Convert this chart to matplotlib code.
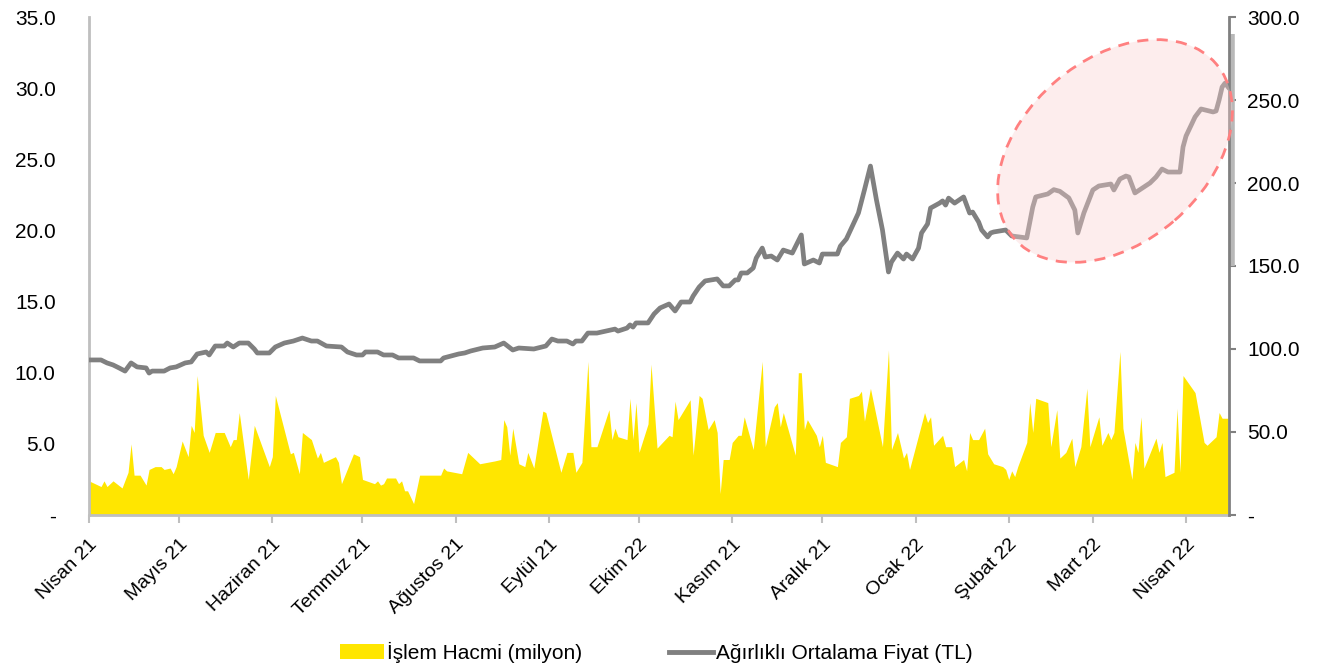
import matplotlib
matplotlib.use('Agg')
import matplotlib.pyplot as plt
from matplotlib.patches import Ellipse, Patch
from matplotlib.lines import Line2D
import pandas as pd

plt.rcParams['font.family'] = ['Liberation Sans Narrow', 'Liberation Sans', 'DejaVu Sans']

# volume (million), x = days after 1 Apr 2021
vol_day = [0, 4, 5, 6, 8, 11, 13, 14, 15, 17, 19, 20, 22, 24, 25, 27, 28, 29, 31, 33,
           34, 35, 36, 38, 40, 42, 45, 47, 48, 49, 50, 53, 55, 60, 61, 62, 67, 68, 70, 71,
           74, 76, 77, 78, 82, 83, 84, 88, 90, 91, 95, 96, 97, 98, 99, 102, 103, 104, 105, 106,
           108, 110, 117, 118, 119, 124, 126, 130, 135, 137, 138, 139, 140, 141, 143, 145, 146, 148, 151, 152,
           157, 159, 161, 162, 164, 166, 167, 169, 173, 174, 175, 176, 179, 180, 181, 182, 183, 186, 187, 189,
           193, 194, 195, 196, 200, 201, 203, 204, 206, 208, 209, 210, 211, 213, 214, 216, 217, 218, 221, 224,
           225, 228, 229, 230, 231, 235, 236, 237, 238, 239, 242, 243, 244, 245, 249, 250, 252, 253, 256, 257,
           258, 260, 264, 266, 267, 269, 271, 272, 273, 278, 279, 280, 281, 284, 285, 287, 288, 291, 292, 293,
           294, 296, 298, 299, 301, 304, 305, 306, 307, 308, 309, 312, 313, 314, 315, 319, 320, 322, 323, 325,
           327, 328, 330, 332, 333, 336, 337, 339, 340, 341, 343, 344, 347, 348, 349, 350, 351, 355, 356, 357,
           358, 361, 362, 363, 364, 368, 371, 372, 375, 376, 377, 379]
vol = [2.4, 2.0, 2.4, 2.0, 2.4, 1.9, 3.0, 5.0, 2.8, 2.8, 2.1, 3.2, 3.4, 3.4, 3.2, 3.3, 2.9, 3.4, 5.2, 4.1,
       6.3, 5.8, 9.8, 5.6, 4.4, 5.8, 5.8, 4.8, 5.3, 5.3, 7.2, 2.5, 6.3, 3.4, 4.1, 8.4, 4.3, 4.4, 2.9, 5.8,
       5.3, 4.0, 4.4, 3.7, 4.1, 3.7, 2.2, 4.3, 4.1, 2.5, 2.2, 2.4, 2.1, 2.2, 2.6, 2.6, 2.2, 2.4, 1.7, 1.7,
       0.8, 2.8, 2.8, 3.3, 3.1, 2.9, 4.4, 3.6, 3.8, 3.9, 6.7, 6.2, 4.2, 6.1, 3.6, 3.4, 4.4, 3.3, 7.3, 7.2,
       3.0, 4.4, 4.4, 3.0, 3.7, 10.8, 4.8, 4.8, 7.4, 5.3, 6.1, 5.5, 5.3, 8.2, 5.3, 7.9, 4.4, 6.4, 10.6, 4.7,
       5.6, 5.5, 8.0, 6.7, 8.1, 4.2, 8.4, 8.2, 6.0, 6.7, 5.8, 1.5, 3.9, 3.9, 5.1, 5.6, 5.6, 6.9, 4.6, 10.8,
       4.8, 7.6, 7.9, 6.2, 7.2, 4.2, 10.0, 10.0, 6.0, 6.7, 5.6, 4.8, 5.6, 3.7, 3.4, 5.1, 5.5, 8.2, 8.4, 8.7,
       6.6, 8.9, 4.8, 11.6, 4.6, 5.8, 4.0, 4.4, 3.2, 7.2, 6.5, 6.9, 4.9, 5.6, 4.8, 4.8, 3.4, 3.9, 3.1, 5.8,
       5.3, 5.3, 6.1, 4.3, 3.6, 3.4, 3.2, 2.5, 3.1, 2.7, 3.4, 5.1, 7.9, 5.8, 8.2, 7.9, 4.8, 7.4, 4.0, 4.4,
       5.4, 3.4, 4.8, 8.9, 4.8, 6.9, 4.9, 5.8, 5.3, 5.8, 11.5, 6.1, 2.5, 5.1, 4.4, 6.9, 3.3, 5.4, 4.4, 5.1,
       2.7, 3.0, 7.5, 3.0, 9.8, 8.6, 5.1, 4.9, 5.5, 7.2, 6.8, 6.8]

# weighted average price (TL)
price_day = [0, 4, 6, 8, 10, 12, 14, 15, 16, 19, 20, 21, 25, 27, 29, 32, 34, 36, 39, 40,
             42, 45, 46, 48, 50, 53, 55, 56, 60, 62, 65, 68, 71, 74, 76, 79, 84, 86, 89, 91,
             92, 96, 98, 101, 103, 108, 110, 117, 118, 123, 125, 127, 131, 135, 138, 141, 143, 148, 152, 154,
             156, 159, 161, 162, 164, 166, 169, 175, 176, 179, 180, 181, 182, 186, 188, 190, 193, 195, 197, 200,
             201, 203, 205, 209, 211, 213, 215, 216, 217, 219, 221, 222, 224, 225, 227, 229, 231, 234, 237, 238,
             241, 243, 244, 249, 250, 252, 256, 258, 260, 262, 264, 266, 267, 269, 271, 272, 274, 276, 277, 279,
             280, 283, 284, 285, 286, 288, 291, 293, 294, 296, 297, 299, 300, 301, 305, 307, 312, 314, 315, 319,
             321, 323, 326, 328, 329, 331, 334, 336, 340, 341, 343, 345, 346, 348, 351, 353, 355, 357, 359, 363,
             364, 365, 368, 370, 374, 375, 376, 377, 378, 379]
price = [93.4, 93.4, 91.6, 90.4, 88.6, 86.7, 91.6, 90.4, 89.2, 88.6, 85.5, 86.7, 86.7, 88.6, 89.2, 91.6, 92.2, 97.0, 98.2, 96.4,
         101.8, 101.8, 103.6, 101.2, 103.6, 103.6, 100.0, 97.6, 97.6, 101.2, 103.6, 104.8, 106.6, 104.8, 104.8, 101.8, 101.2, 98.2, 96.4, 96.4,
         98.2, 98.2, 96.4, 96.4, 94.6, 94.6, 92.8, 92.8, 94.6, 97.0, 97.6, 98.8, 100.6, 101.2, 103.6, 99.4, 100.6, 100.0, 101.8, 106.0,
         104.8, 104.8, 103.0, 104.8, 104.8, 109.6, 109.6, 112.0, 110.8, 112.6, 114.5, 113.2, 115.7, 115.7, 121.1, 124.7, 127.1, 122.9, 128.3, 128.3,
         131.9, 137.3, 141.0, 142.2, 138.0, 138.0, 141.6, 141.6, 145.8, 145.8, 148.8, 154.8, 160.8, 155.4, 156.0, 153.6, 159.6, 157.8, 168.7, 151.2,
         153.6, 151.8, 157.2, 157.2, 162.0, 166.3, 181.9, 195.8, 210.2, 189.8, 171.7, 146.4, 152.4, 157.8, 154.2, 157.2, 154.2, 160.8, 169.9, 175.3,
         184.9, 187.9, 189.2, 186.7, 190.9, 187.9, 191.6, 181.9, 182.5, 176.5, 171.7, 167.5, 169.9, 170.5, 171.7, 168.1, 166.9, 185.5, 191.6, 193.4,
         196.0, 195.0, 191.0, 183.7, 169.9, 181.9, 195.8, 198.2, 199.4, 195.8, 202.4, 204.2, 203.6, 194.0, 197.6, 200.0, 203.6, 208.4, 206.6, 206.6,
         221.7, 228.3, 239.8, 244.6, 242.8, 243.4, 250.0, 257.8, 260.2, 257.8]

month_labels = ['Nisan 21', 'Mayıs 21', 'Haziran 21', 'Temmuz 21', 'Ağustos 21', 'Eylül 21', 'Ekim 22',
                'Kasım 21', 'Aralık 21', 'Ocak 22', 'Şubat 22', 'Mart 22', 'Nisan 22']

start = pd.Timestamp('2021-04-01')
vol_dates = start + pd.to_timedelta(vol_day, unit='D')
price_dates = start + pd.to_timedelta(price_day, unit='D')
month_ticks = pd.date_range('2021-04-01', '2022-04-01', freq='MS')

YELLOW = '#FFE600'
GREY = '#808080'
LIGHT = '#BFBFBF'

fig = plt.figure(figsize=(13.34, 6.67), dpi=100)
ax = fig.add_axes([0.0667, 0.2279, 0.8546, 0.7466])
ax.fill_between(vol_dates, vol, color=YELLOW, lw=0)
ax.set_ylim(0, 35)
ax.set_xlim(start, start + pd.Timedelta(days=379.3))
ax.set_yticks(range(0, 36, 5))
ax.set_yticklabels(['-' if v == 0 else f'{v:.1f}' for v in range(0, 36, 5)], fontsize=15)
ax.set_xticks(month_ticks)
ax.set_xticklabels(month_labels, rotation=45, ha='right', rotation_mode='anchor', fontsize=14)
ax.tick_params(axis='y', length=0, pad=24)
ax.tick_params(axis='x', length=6, color=LIGHT, width=1.5, pad=9)
for s in ['top', 'right']:
    ax.spines[s].set_visible(False)
ax.spines['left'].set_color(LIGHT)
ax.spines['left'].set_linewidth(2)
ax.spines['bottom'].set_color(LIGHT)
ax.spines['bottom'].set_linewidth(2)

ax2 = ax.twinx()
ax2.plot(price_dates, price, color=GREY, lw=3.4, solid_joinstyle='round')
ax2.set_ylim(0, 300)
ax2.set_yticks(range(0, 301, 50))
ax2.set_yticklabels(['-' if v == 0 else f'{v:.1f}' for v in range(0, 301, 50)], fontsize=15)
ax2.tick_params(axis='y', length=5, color=GREY, width=1.5, pad=8)
for s in ['top', 'left', 'bottom']:
    ax2.spines[s].set_visible(False)
ax2.spines['right'].set_color(GREY)
ax2.spines['right'].set_linewidth(2)
ax2.plot([1.003, 1.003], [0.5, 0.965], transform=ax2.transAxes, color='#b8b8b8',
         lw=4, clip_on=False, solid_capstyle='butt')

# highlighted area
ell = Ellipse((11.15, 5.16), 2.67, 1.83, angle=40.8, transform=fig.dpi_scale_trans,
              facecolor=(0.98, 0.82, 0.82, 0.39), edgecolor='#FF8080', lw=2,
              linestyle=(0, (4, 3)))
fig.add_artist(ell)

handles = [Patch(facecolor=YELLOW, edgecolor='none'),
           Line2D([0], [0], color=GREY, lw=3.5)]
fig.legend(handles, ['İşlem Hacmi (milyon)', 'Ağırlıklı Ortalama Fiyat (TL)'],
           loc='center', bbox_to_anchor=(0.492, 0.022), ncol=2, frameon=False,
           fontsize=15, handlelength=2.1, handletextpad=0.15, columnspacing=4.2)

fig.savefig('out.png', dpi=100)
